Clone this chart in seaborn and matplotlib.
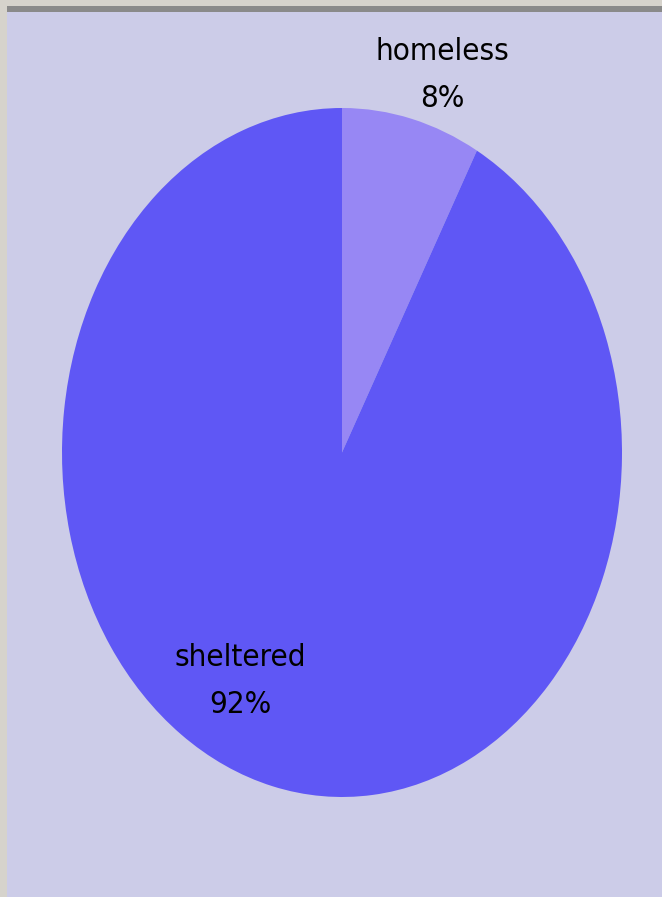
import matplotlib
matplotlib.use("Agg")
import matplotlib.pyplot as plt
from matplotlib.patches import Rectangle
import seaborn as sns

categories = ["homeless", "sheltered"]
shares = [8, 92]
colors = ["#9787F4", "#5F57F5"]

sns.set_theme(style="white")
plt.rcParams["font.family"] = ["DejaVu Sans"]

W, H = 662, 897
fig = plt.figure(figsize=(W / 100, H / 100), dpi=100, facecolor="#D6D3CC")

# window frame: dark band on top, lavender plot area
fig.patches.append(Rectangle((7 / W, 0), 1 - 7 / W, 1 - 6 / H, transform=fig.transFigure,
                             facecolor="#8A8A8A", edgecolor="none", zorder=-2))
fig.patches.append(Rectangle((7 / W, 0), 1 - 7 / W, 1 - 12 / H, transform=fig.transFigure,
                             facecolor="#CCCCE8", edgecolor="none", zorder=-1))

ax = fig.add_axes([62 / W, 100 / H, 560 / W, 689 / H])
ax.set_zorder(1)
ax.pie(shares, colors=colors, startangle=90, counterclock=False, radius=1,
       wedgeprops=dict(linewidth=0, edgecolor="none"))
ax.set_aspect("auto")
ax.set_xlim(-1, 1)
ax.set_ylim(-1, 1)
ax.set_axis_off()
ax.patch.set_alpha(0)

label_pos = [(442 / W, 1 - 75 / H), (240 / W, 1 - 681 / H)]
for cat, val, (x, y) in zip(categories, shares, label_pos):
    fig.text(x, y, f"{cat}\n{val}%", ha="center", va="center", fontsize=22.5,
             fontstretch="condensed", color="black", linespacing=1.75, zorder=3)

fig.savefig("out.png", dpi=100, facecolor=fig.get_facecolor())
